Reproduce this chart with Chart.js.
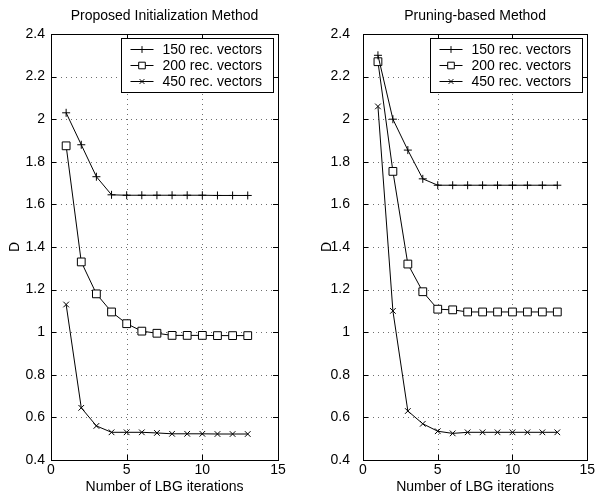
<!DOCTYPE html>
<html>
<head>
<meta charset="utf-8">
<script src="https://cdn.jsdelivr.net/npm/chart.js@4.4.0/dist/chart.umd.min.js"></script>
<style>
  html, body { margin: 0; padding: 0; background: #fff; }
  #wrap { position: relative; width: 597px; height: 496px; overflow: hidden; background: #fff; }
  canvas { position: absolute; top: 0; }
  #left { left: 0; }
  #right { left: 297px; }
</style>
</head>
<body>
<div id="wrap">
  <canvas id="left" width="298" height="496"></canvas>
  <canvas id="right" width="300" height="496"></canvas>
</div>
<script>
// LBG iteration index
const iterations = [1, 2, 3, 4, 5, 6, 7, 8, 9, 10, 11, 12, 13];
const seriesLabels = ['150 rec. vectors', '200 rec. vectors', '450 rec. vectors'];

// Distortion D, proposed initialization
const proposed150 = [2.03, 1.88, 1.73, 1.645, 1.643, 1.643, 1.643, 1.643, 1.643, 1.643, 1.642, 1.642, 1.642];
const proposed200 = [1.875, 1.33, 1.18, 1.095, 1.04, 1.005, 0.995, 0.985, 0.985, 0.985, 0.984, 0.984, 0.984];
const proposed450 = [1.13, 0.645, 0.56, 0.53, 0.53, 0.53, 0.527, 0.523, 0.523, 0.523, 0.522, 0.522, 0.522];

// Distortion D, pruning-based initialization
const pruning150 = [2.30, 2.00, 1.855, 1.72, 1.69, 1.69, 1.69, 1.69, 1.69, 1.69, 1.69, 1.69, 1.69];
const pruning200 = [2.27, 1.755, 1.32, 1.19, 1.108, 1.105, 1.095, 1.095, 1.095, 1.095, 1.095, 1.095, 1.095];
const pruning450 = [2.06, 1.10, 0.63, 0.57, 0.535, 0.525, 0.53, 0.53, 0.53, 0.53, 0.53, 0.53, 0.53];

const xTicks = [0, 5, 10, 15];
const yTicks = [0.4, 0.6, 0.8, 1, 1.2, 1.4, 1.6, 1.8, 2, 2.2, 2.4];

const FONT = 'Liberation Sans, Arial, Helvetica, sans-serif';
const markerStyles = ['cross', 'rect', 'crossRot'];
const markerRadius = [4, 5.5, 4];

function toPoints(values) {
  return iterations.map((it, i) => ({ x: it, y: values[i] }));
}

// Dotted grid under the curves
const dottedGrid = {
  id: 'dottedGrid',
  beforeDatasetsDraw(chart) {
    const ctx = chart.ctx;
    const a = chart.chartArea;
    const xs = chart.scales.x, ys = chart.scales.y;
    ctx.save();
    ctx.strokeStyle = '#6f6f6f';
    ctx.lineWidth = 1;
    ctx.setLineDash([1, 4]);
    ctx.beginPath();
    xTicks.forEach(v => {
      const px = Math.round(xs.getPixelForValue(v)) + 0.5;
      ctx.moveTo(px, a.bottom); ctx.lineTo(px, a.top);
    });
    yTicks.forEach(v => {
      const py = Math.round(ys.getPixelForValue(v)) + 0.5;
      ctx.moveTo(a.left, py); ctx.lineTo(a.right, py);
    });
    ctx.stroke();
    ctx.restore();
  }
};

// Frame, inward ticks, panel title and boxed legend
const decor = {
  id: 'decor',
  afterDatasetsDraw(chart, args, opts) {
    const ctx = chart.ctx;
    const a = chart.chartArea;
    const xs = chart.scales.x, ys = chart.scales.y;
    ctx.save();
    ctx.strokeStyle = '#000';
    ctx.lineWidth = 1;
    ctx.setLineDash([]);
    // frame
    ctx.strokeRect(Math.round(a.left) + 0.5, Math.round(a.top) + 0.5,
                   Math.round(a.right - a.left), Math.round(a.bottom - a.top));
    // inward ticks on all four sides
    const tl = 5;
    ctx.beginPath();
    xTicks.forEach(v => {
      const px = Math.round(xs.getPixelForValue(v)) + 0.5;
      ctx.moveTo(px, a.bottom); ctx.lineTo(px, a.bottom - tl);
      ctx.moveTo(px, a.top); ctx.lineTo(px, a.top + tl);
    });
    yTicks.forEach(v => {
      const py = Math.round(ys.getPixelForValue(v)) + 0.5;
      ctx.moveTo(a.left, py); ctx.lineTo(a.left + tl, py);
      ctx.moveTo(a.right, py); ctx.lineTo(a.right - tl, py);
    });
    ctx.stroke();

    // title
    ctx.fillStyle = '#000';
    ctx.font = '14px ' + FONT;
    ctx.textAlign = 'center';
    ctx.textBaseline = 'middle';
    ctx.fillText(opts.title, (a.left + a.right) / 2, 16);

    // legend box
    const bw = 152, bh = 54;
    const bx = Math.round(a.right - 5 - bw) + 0.5;
    const by = Math.round(a.top + 4) + 0.5;
    ctx.fillStyle = '#fff';
    ctx.fillRect(bx, by, bw, bh);
    ctx.strokeRect(bx, by, bw, bh);
    chart.data.datasets.forEach((ds, i) => {
      const ry = by + 11 + i * 16;
      ctx.beginPath();
      ctx.strokeStyle = '#000';
      ctx.lineWidth = 1;
      ctx.moveTo(bx + 9, ry); ctx.lineTo(bx + 32, ry);
      ctx.stroke();
      ctx.fillStyle = '#fff';
      ctx.strokeStyle = '#000';
      Chart.helpers.drawPoint(ctx, {
        pointStyle: ds.pointStyle, rotation: 0, radius: ds.pointRadius * 0.85, borderWidth: 1
      }, bx + 20.5, ry);
      ctx.fillStyle = '#000';
      ctx.font = '14px ' + FONT;
      ctx.textAlign = 'left';
      ctx.textBaseline = 'middle';
      ctx.fillText(ds.label, bx + 41, ry + 1);
    });
    ctx.restore();
  }
};

function makeChart(id, title, series, yAxisWidth, yTitlePad, yTickPad, rightPad) {
  const datasets = series.map((vals, i) => ({
    label: seriesLabels[i],
    data: toPoints(vals),
    borderColor: '#000',
    borderWidth: 1,
    pointStyle: markerStyles[i],
    pointRadius: markerRadius[i],
    pointHoverRadius: markerRadius[i],
    pointBorderColor: '#000',
    pointBackgroundColor: '#fff',
    pointBorderWidth: 1,
    tension: 0,
    fill: false
  }));
  return new Chart(document.getElementById(id), {
    type: 'line',
    data: { datasets },
    plugins: [dottedGrid, decor],
    options: {
      responsive: false,
      animation: false,
      layout: { padding: { top: 34, right: rightPad, left: 0, bottom: 0 } },
      plugins: {
        legend: { display: false },
        tooltip: { enabled: false },
        decor: { title }
      },
      scales: {
        x: {
          type: 'linear',
          min: 0, max: 15,
          afterBuildTicks: s => { s.ticks = xTicks.map(v => ({ value: v })); },
          afterFit: s => { s.height = 36; },
          ticks: { color: '#000', font: { family: FONT, size: 14 }, padding: 2, maxRotation: 0 },
          grid: { display: false, drawTicks: false, tickLength: 0 },
          border: { display: false },
          title: { display: true, text: 'Number of LBG iterations', color: '#000',
                   font: { family: FONT, size: 14 }, padding: { top: 0, bottom: 0 } }
        },
        y: {
          type: 'linear',
          min: 0.4, max: 2.4,
          afterBuildTicks: s => { s.ticks = yTicks.map(v => ({ value: v })); },
          afterFit: s => { s.width = yAxisWidth; },
          ticks: { color: '#000', font: { family: FONT, size: 14 }, padding: yTickPad,
                   callback: v => String(v) },
          grid: { display: false, drawTicks: false, tickLength: 0 },
          border: { display: false },
          title: { display: true, text: 'D', color: '#000',
                   font: { family: FONT, size: 14 }, padding: { top: yTitlePad, bottom: 0 } }
        }
      }
    }
  });
}

makeChart('left', 'Proposed Initialization Method',
  [proposed150, proposed200, proposed450], 51, 7, 6, 20);
makeChart('right', 'Pruning-based Method',
  [pruning150, pruning200, pruning450], 66, 22, 13, 7);
</script>
</body>
</html>
